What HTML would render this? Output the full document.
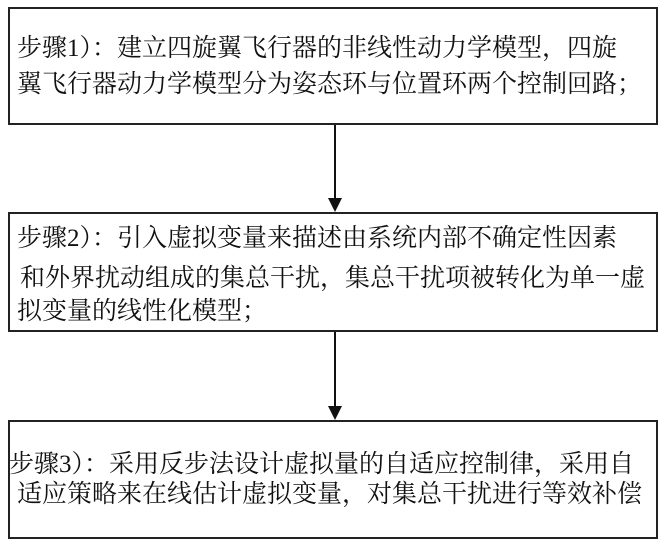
<!DOCTYPE html>
<html><head><meta charset="utf-8"><style>
html,body{margin:0;padding:0;background:#fff;}
body{width:666px;height:546px;position:relative;overflow:hidden;font-family:"Liberation Serif","Noto Serif CJK SC",serif;color:#111;}
.box{position:absolute;left:8px;width:650px;border:2px solid #222;box-sizing:border-box;}
.t{position:absolute;font-size:25px;line-height:30px;white-space:nowrap;}
</style></head><body>
<div class="box" style="top:7px;height:118px;"></div>
<div class="box" style="top:212px;height:120px;"></div>
<div class="box" style="top:420px;height:119px;"></div>
<svg width="666" height="546" style="position:absolute;left:0;top:0">
<line x1="335" y1="125" x2="335" y2="200" stroke="#111" stroke-width="2"/>
<polygon points="328,198 342,198 335,212" fill="#111"/>
<line x1="335" y1="332" x2="335" y2="408" stroke="#111" stroke-width="2"/>
<polygon points="328,406 342,406 335,420" fill="#111"/>
</svg>
<div class="t" style="left:17px;top:34px;">步骤1）：建立四旋翼飞行器的非线性动力学模型，四旋</div>
<div class="t" style="left:17px;top:70px;">翼飞行器动力学模型分为姿态环与位置环两个控制回路；</div>
<div class="t" style="left:17px;top:224px;">步骤2）：引入虚拟变量来描述由系统内部不确定性因素</div>
<div class="t" style="left:20px;top:264px;">和外界扰动组成的集总干扰，集总干扰项被转化为单一虚</div>
<div class="t" style="left:17px;top:297px;">拟变量的线性化模型；</div>
<div class="t" style="left:9px;top:450px;">步骤3）：采用反步法设计虚拟量的自适应控制律，采用自</div>
<div class="t" style="left:17px;top:480px;">适应策略来在线估计虚拟变量，对集总干扰进行等效补偿</div>
</body></html>
